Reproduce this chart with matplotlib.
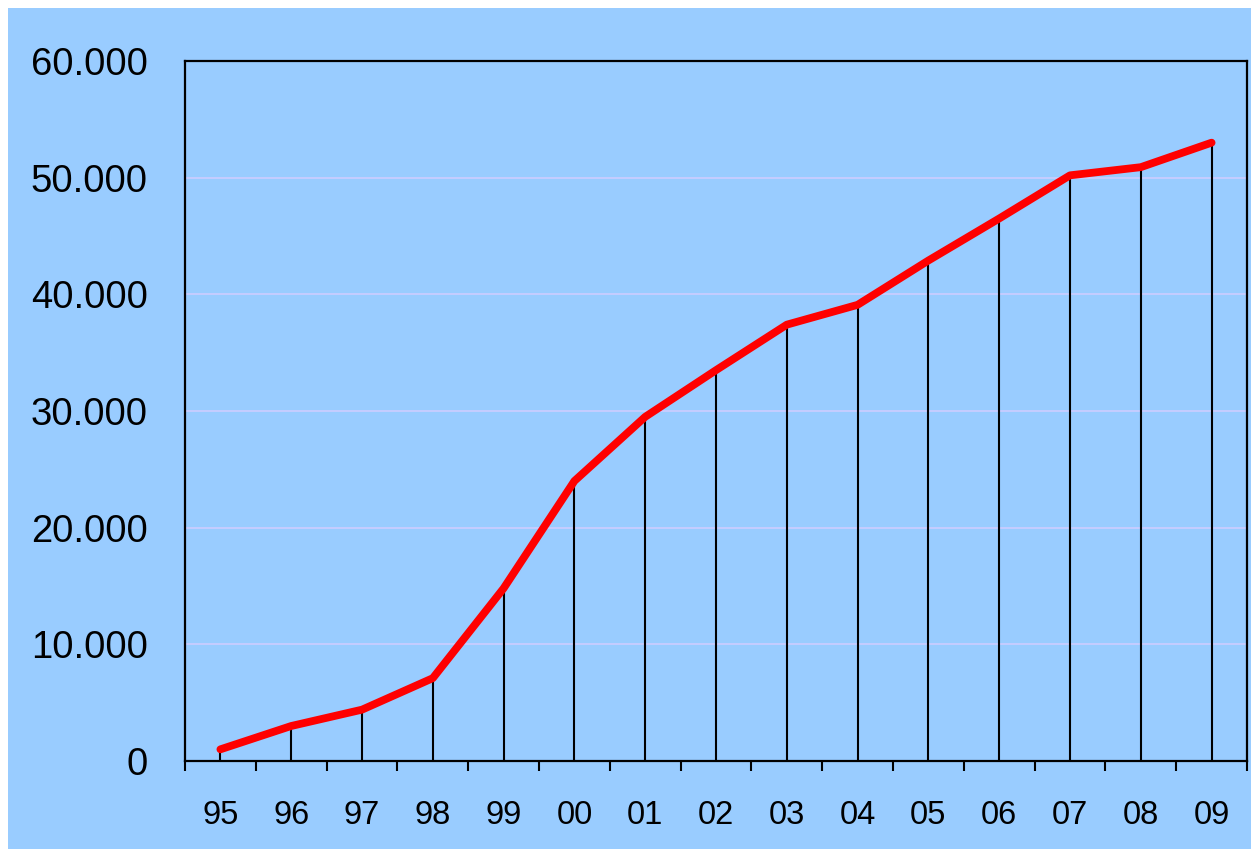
import matplotlib
matplotlib.use("Agg")
import matplotlib.pyplot as plt
from matplotlib.patches import Rectangle
from matplotlib.ticker import FuncFormatter, FixedLocator

plt.rcParams['font.family'] = ['Liberation Sans', 'DejaVu Sans']

# Yearly totals, 1995-2009
years = ['95', '96', '97', '98', '99', '00', '01', '02',
         '03', '04', '05', '06', '07', '08', '09']
totals = [1000, 3000, 4400, 7100, 14800, 24000, 29500, 33500,
          37400, 39100, 42900, 46500, 50200, 50900, 53000]

bg = '#99CCFF'
W, H = 1251, 849

fig = plt.figure(figsize=(W / 100, H / 100), dpi=100, facecolor=bg)
# thin white margin along the top and left edges
for rect in [(0, 1 - 8 / H, 1, 8 / H), (0, 0, 8 / W, 1)]:
    fig.patches.append(Rectangle(rect[:2], rect[2], rect[3],
                                 transform=fig.transFigure, facecolor='white',
                                 edgecolor='none', zorder=-10))

ax = fig.add_axes([185 / W, (H - 761) / H, 1062 / W, 700 / H])
ax.set_facecolor(bg)

x = list(range(len(years)))

# drop lines from each point to the axis
ax.vlines(x, 0, totals, color='black', linewidth=1.5, zorder=2)
ax.plot(x, totals, color='#FF0000', linewidth=5.6,
        solid_capstyle='round', solid_joinstyle='round', zorder=3)

ax.set_xlim(-0.5, len(years) - 0.5)
ax.set_ylim(0, 60000)
ax.set_yticks(range(0, 60001, 10000))
ax.yaxis.set_major_formatter(FuncFormatter(lambda v, p: f'{int(v):,}'.replace(',', '.')))
ax.grid(axis='y', color='#CCCCFF', linewidth=1.2, zorder=1)
ax.set_axisbelow(True)

ax.set_xticks(x)
ax.set_xticklabels(years)
ax.xaxis.set_minor_locator(FixedLocator([i - 0.5 for i in range(len(years) + 1)]))

ax.tick_params(axis='y', length=0, labelsize=27.5, pad=27)
ax.tick_params(axis='x', which='major', length=0, labelsize=23.5, pad=28)
ax.tick_params(axis='x', which='minor', length=7.5, width=1.5, direction='out')

for s in ax.spines.values():
    s.set_linewidth(1.6)
    s.set_color('black')

fig.savefig('out.png', dpi=100, facecolor=fig.get_facecolor())
